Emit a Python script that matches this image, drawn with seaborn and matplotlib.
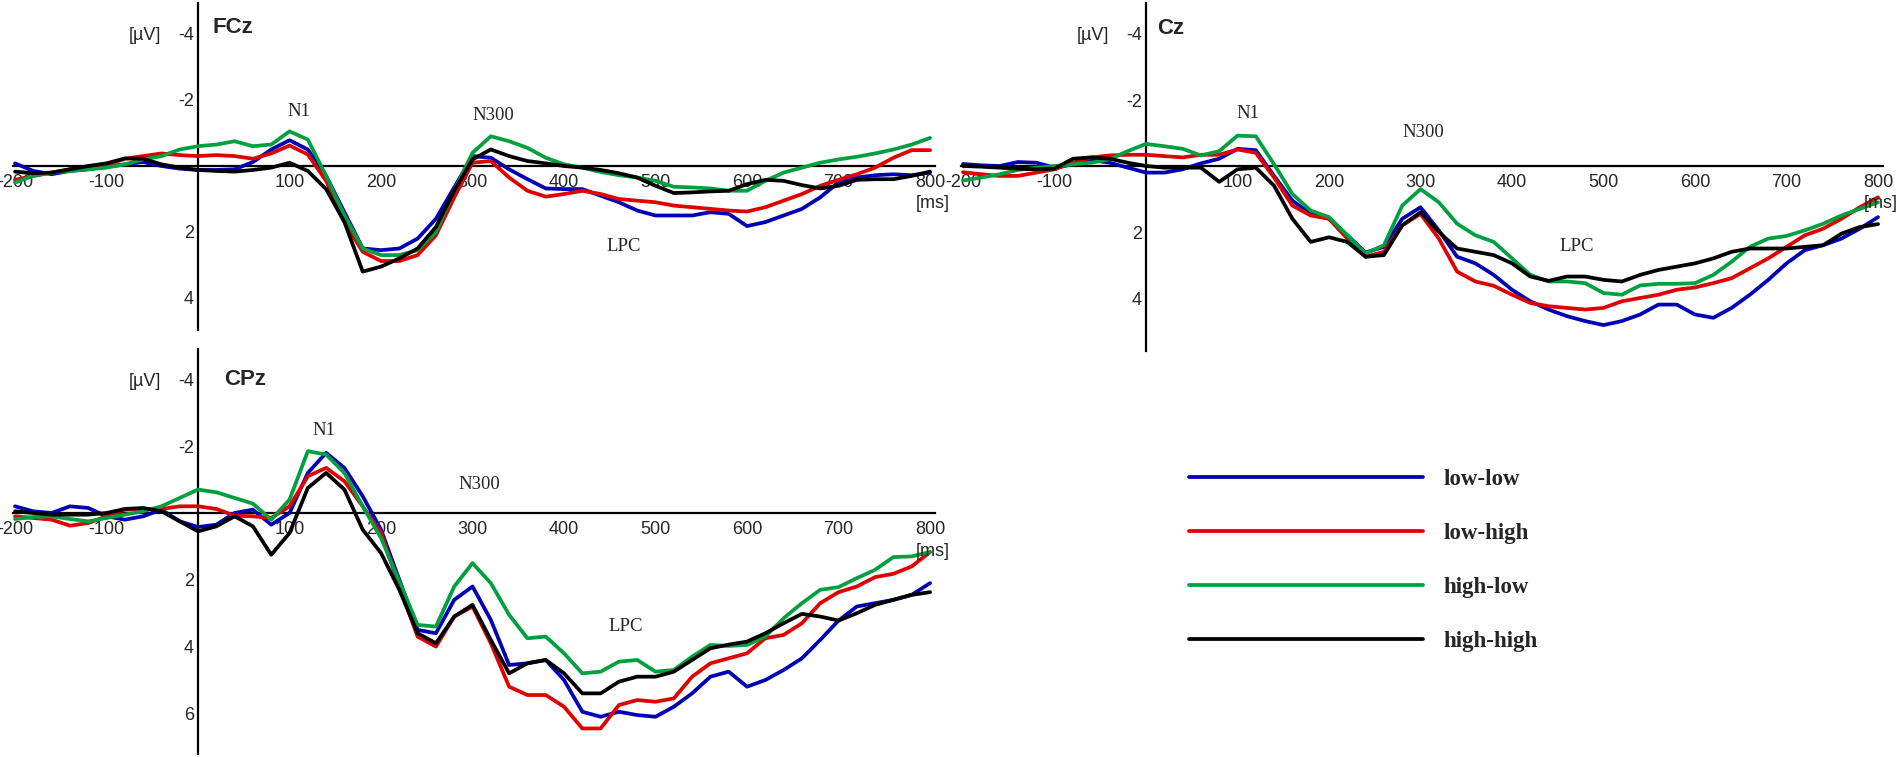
import matplotlib
matplotlib.use('Agg')
import pandas as pd
import matplotlib.pyplot as plt
import seaborn as sns
from matplotlib.font_manager import FontProperties

# ERP waveforms at FCz, Cz and CPz for the four conditions.
####################################################

times = list(range(-200, 801, 20))
conditions = ['low-low', 'low-high', 'high-low', 'high-high']
colors = ['#0000B4', '#E00000', '#00A040', '#000000']

fcz_low_low = [-0.08, 0.15, 0.25, 0.15, 0.1, 0.02, -0.05, -0.12, 0.0, 0.08,
               0.12, 0.12, 0.1, -0.12, -0.5, -0.78, -0.5, 0.3, 1.4, 2.5,
               2.55, 2.5, 2.2, 1.6, 0.65, -0.3, -0.25, 0.1, 0.4, 0.68,
               0.7, 0.7, 0.9, 1.1, 1.35, 1.5, 1.5, 1.5, 1.4, 1.45,
               1.82, 1.7, 1.5, 1.3, 0.95, 0.5, 0.35, 0.28, 0.25, 0.28, 0.2]
fcz_low_high = [0.42, 0.3, 0.2, 0.1, 0.05, -0.03, -0.22, -0.3, -0.38, -0.33,
                -0.3, -0.33, -0.3, -0.22, -0.38, -0.62, -0.35, 0.45, 1.7, 2.6,
                2.88, 2.88, 2.7, 2.1, 0.95, -0.1, -0.15, 0.35, 0.75, 0.93,
                0.85, 0.75, 0.85, 1.0, 1.05, 1.1, 1.2, 1.25, 1.3, 1.35,
                1.38, 1.25, 1.05, 0.85, 0.6, 0.42, 0.25, 0.05, -0.25, -0.48, -0.48]
fcz_high_low = [0.5, 0.3, 0.2, 0.15, 0.1, 0.05, -0.05, -0.2, -0.3, -0.5,
                -0.6, -0.65, -0.75, -0.6, -0.65, -1.05, -0.8, 0.3, 1.5, 2.5,
                2.7, 2.7, 2.55, 2.0, 0.75, -0.4, -0.9, -0.75, -0.55, -0.25,
                -0.05, 0.05, 0.18, 0.28, 0.35, 0.45, 0.63, 0.65, 0.68, 0.75,
                0.75, 0.45, 0.2, 0.05, -0.1, -0.2, -0.28, -0.38, -0.5, -0.65, -0.85]
fcz_high_high = [0.17, 0.22, 0.2, 0.1, 0.0, -0.08, -0.23, -0.22, -0.05, 0.05,
                 0.12, 0.15, 0.17, 0.12, 0.05, -0.1, 0.15, 0.7, 1.7, 3.2,
                 3.05, 2.8, 2.5, 1.85, 0.75, -0.2, -0.5, -0.3, -0.15, -0.08,
                 0.0, 0.05, 0.12, 0.22, 0.35, 0.6, 0.82, 0.8, 0.77, 0.75,
                 0.55, 0.42, 0.45, 0.58, 0.68, 0.6, 0.42, 0.4, 0.4, 0.3, 0.17]

cz_low_low = [-0.06, -0.02, 0.0, -0.12, -0.1, 0.05, -0.05, -0.18, -0.1, 0.05,
              0.2, 0.2, 0.1, -0.08, -0.22, -0.52, -0.48, 0.3, 1.05, 1.45,
              1.6, 2.1, 2.62, 2.45, 1.6, 1.25, 1.95, 2.75, 2.95, 3.3,
              3.75, 4.1, 4.35, 4.55, 4.7, 4.82, 4.7, 4.5, 4.2, 4.2,
              4.5, 4.6, 4.3, 3.9, 3.45, 2.95, 2.55, 2.4, 2.2, 1.9, 1.55]
cz_low_high = [0.19, 0.25, 0.3, 0.3, 0.2, 0.1, -0.1, -0.26, -0.32, -0.34,
               -0.34, -0.3, -0.26, -0.34, -0.34, -0.5, -0.4, 0.35, 1.2, 1.5,
               1.6, 2.2, 2.75, 2.6, 1.8, 1.45, 2.2, 3.2, 3.5, 3.63,
               3.9, 4.15, 4.25, 4.3, 4.35, 4.3, 4.1, 4.0, 3.9, 3.75,
               3.68, 3.55, 3.4, 3.1, 2.8, 2.45, 2.1, 1.9, 1.6, 1.25, 0.95]
cz_high_low = [0.44, 0.35, 0.25, 0.12, 0.05, 0.0, -0.05, -0.1, -0.2, -0.45,
               -0.67, -0.6, -0.52, -0.32, -0.45, -0.92, -0.9, -0.05, 0.85, 1.35,
               1.55, 2.1, 2.65, 2.4, 1.2, 0.7, 1.1, 1.75, 2.1, 2.3,
               2.8, 3.3, 3.5, 3.5, 3.55, 3.85, 3.9, 3.62, 3.57, 3.57,
               3.55, 3.3, 2.9, 2.45, 2.2, 2.12, 1.95, 1.75, 1.5, 1.3, 1.1]
cz_high_high = [0.0, 0.02, 0.05, 0.08, 0.1, 0.08, -0.22, -0.26, -0.22, -0.1,
                0.0, 0.05, 0.05, 0.05, 0.48, 0.1, 0.05, 0.6, 1.6, 2.3,
                2.16, 2.3, 2.75, 2.7, 1.8, 1.4, 2.0, 2.5, 2.6, 2.7,
                2.95, 3.35, 3.48, 3.35, 3.35, 3.45, 3.5, 3.3, 3.15, 3.05,
                2.95, 2.8, 2.6, 2.5, 2.5, 2.5, 2.45, 2.4, 2.05, 1.85, 1.76]

cpz_low_low = [-0.2, -0.05, 0.0, -0.2, -0.15, 0.1, 0.2, 0.1, -0.1, 0.25,
               0.42, 0.35, 0.0, -0.1, 0.35, 0.0, -1.2, -1.8, -1.35, -0.5,
               0.5, 2.0, 3.5, 3.6, 2.6, 2.2, 3.2, 4.55, 4.5, 4.4,
               5.0, 5.95, 6.1, 5.95, 6.05, 6.1, 5.8, 5.4, 4.9, 4.75,
               5.2, 5.0, 4.7, 4.35, 3.8, 3.22, 2.8, 2.7, 2.6, 2.45, 2.1]
cpz_low_high = [0.1, 0.15, 0.2, 0.38, 0.3, 0.1, -0.1, -0.12, -0.12, -0.2,
                -0.2, -0.12, 0.08, 0.1, 0.15, -0.2, -1.1, -1.35, -0.95, -0.2,
                0.6, 2.2, 3.7, 4.0, 3.1, 2.8, 3.9, 5.2, 5.45, 5.45,
                5.8, 6.45, 6.45, 5.75, 5.6, 5.65, 5.55, 4.9, 4.5, 4.35,
                4.2, 3.75, 3.65, 3.3, 2.7, 2.37, 2.2, 1.92, 1.82, 1.6, 1.17]
cpz_high_low = [0.18, 0.12, 0.1, 0.18, 0.25, 0.15, 0.05, -0.05, -0.2, -0.45,
                -0.7, -0.62, -0.45, -0.28, 0.2, -0.4, -1.85, -1.75, -1.2, -0.2,
                0.75, 2.05, 3.35, 3.4, 2.2, 1.5, 2.1, 3.05, 3.75, 3.7,
                4.2, 4.8, 4.75, 4.45, 4.4, 4.75, 4.7, 4.3, 3.95, 3.98,
                3.95, 3.7, 3.15, 2.7, 2.3, 2.22, 1.95, 1.7, 1.32, 1.3, 1.17]
cpz_high_high = [-0.05, 0.0, 0.05, 0.05, 0.05, 0.0, -0.12, -0.15, -0.05, 0.25,
                 0.55, 0.4, 0.1, 0.4, 1.25, 0.6, -0.75, -1.2, -0.7, 0.5,
                 1.2, 2.3, 3.6, 3.9, 3.1, 2.75, 3.8, 4.8, 4.5, 4.4,
                 4.8, 5.4, 5.4, 5.05, 4.9, 4.9, 4.75, 4.4, 4.05, 3.94,
                 3.85, 3.6, 3.3, 3.02, 3.1, 3.22, 3.0, 2.75, 2.6, 2.45, 2.37]

xtick_values = [-200, -100, 100, 200, 300, 400, 500, 600, 700, 800]

panels = {
    'FCz': [fcz_low_low, fcz_low_high, fcz_high_low, fcz_high_high],
    'Cz': [cz_low_low, cz_low_high, cz_high_low, cz_high_high],
    'CPz': [cpz_low_low, cpz_low_high, cpz_high_low, cpz_high_high],
}

# positions of the three panels in figure fractions, and their y ranges
layout = {
    'FCz': dict(rect=[0.00695, 0.56407, 0.48495, 0.43243], ylim=(4.97, -4.95), yticks=[-4, -2, 2, 4],
                n1=(110, -1.64), n300=(323, -1.52), lpc=(465, 2.45), name=(16, -4.2)),
    'Cz': dict(rect=[0.50589, 0.53659, 0.48495, 0.45991], ylim=(5.6, -4.95), yticks=[-4, -2, 2, 4],
               n1=(111, -1.6), n300=(303, -1.03), lpc=(471, 2.45), name=(12, -4.17)),
    'CPz': dict(rect=[0.00695, 0.00462, 0.48495, 0.53395], ylim=(7.2, -4.9), yticks=[-4, -2, 2, 4, 6],
                n1=(138, -2.48), n300=(307, -0.85), lpc=(467, 3.4), name=(28, -4.0)),
}

sns.set_style('white')
plt.rcParams['font.family'] = ['Liberation Sans', 'DejaVu Sans']
plt.rcParams['axes.unicode_minus'] = False

serif = FontProperties(family='Liberation Serif', size=13.5)

fig = plt.figure(figsize=(19, 7.57), dpi=100)

for site, waves in panels.items():
    lay = layout[site]
    ax = fig.add_axes(lay['rect'])
    ax.patch.set_alpha(0)

    rows = []
    for cond, vals in zip(conditions, waves):
        rows.append(pd.DataFrame({'time': times, 'amp': vals, 'condition': cond}))
    df = pd.concat(rows, ignore_index=True)

    sns.lineplot(data=df, x='time', y='amp', hue='condition', hue_order=conditions,
                 palette=colors, linewidth=2.7, errorbar=None, ax=ax,
                 legend=(site == 'CPz'))

    ax.set_xlim(-202, 805)
    ax.set_ylim(*lay['ylim'])
    ax.set_xlabel('')
    ax.set_ylabel('')

    # axes cross at the origin like in the EEG software
    for side in ['top', 'right']:
        ax.spines[side].set_visible(False)
    ax.spines['left'].set_position(('data', 0))
    ax.spines['bottom'].set_position(('data', 0))
    for side in ['left', 'bottom']:
        ax.spines[side].set_linewidth(1.6)
        ax.spines[side].set_color('black')
        ax.spines[side].set_zorder(1)

    ax.set_xticks(xtick_values)
    ax.set_xticklabels([str(v) for v in xtick_values])
    ax.set_yticks(lay['yticks'])
    ax.set_yticklabels([str(v) for v in lay['yticks']])
    ax.tick_params(axis='x', direction='out', length=3, width=1.2, pad=3, labelsize=13)
    ax.tick_params(axis='y', direction='out', length=2.5, width=1.2, pad=0.5, labelsize=13)

    ax.text(lay['name'][0], lay['name'][1], site, fontsize=16, fontweight='bold',
            ha='left', va='center')
    ax.text(-40, -3.95, '[µV]', fontsize=13, ha='right', va='center')
    ax.text(803, 1.15, '[ms]', fontsize=13, ha='center', va='center', clip_on=False)
    ax.text(*lay['n1'], 'N1', fontproperties=serif, ha='center', va='center')
    ax.text(*lay['n300'], 'N300', fontproperties=serif, ha='center', va='center')
    ax.text(*lay['lpc'], 'LPC', fontproperties=serif, ha='center', va='center')

    if site == 'CPz':
        handles, labels = ax.get_legend_handles_labels()
        ax.get_legend().remove()

fig.legend(handles, labels, loc='upper left', bbox_to_anchor=(0.6258, 0.3801),
           frameon=False, handlelength=10.2, handletextpad=0.9, labelspacing=1.44,
           borderpad=0, borderaxespad=0,
           prop=FontProperties(family='Liberation Serif', weight='bold', size=16.5))

plt.savefig('out.png', dpi=100)
